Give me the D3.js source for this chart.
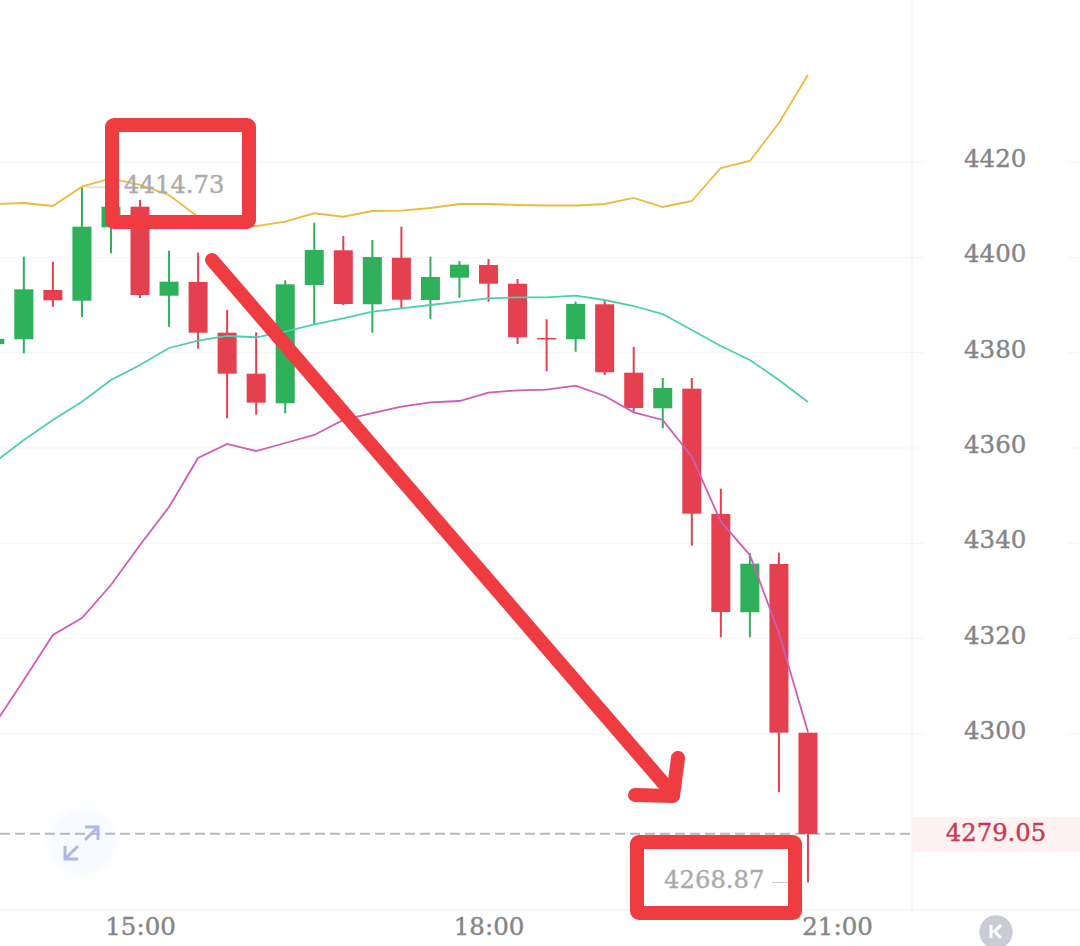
<!DOCTYPE html>
<html>
<head>
<meta charset="utf-8">
<script src="https://cdn.jsdelivr.net/npm/d3@7"></script>
<style>
  html, body { margin: 0; padding: 0; background: #fff; }
  svg { display: block; }
  text { font-family: "DejaVu Serif", serif; }
</style>
</head>
<body>
<div id="chart"></div>
<script>
// 15 minute candles, the last slot (21:00) has no candle yet
const times = ["13:45","14:00","14:15","14:30","14:45","15:00","15:15","15:30","15:45","16:00",
  "16:15","16:30","16:45","17:00","17:15","17:30","17:45","18:00","18:15","18:30",
  "18:45","19:00","19:15","19:30","19:45","20:00","20:15","20:30","20:45","21:00"];

const open = [4381.8,4382.81,4393.15,4390.9,4406.3,4410.62,4391.95,4394.83,4384.19,4375.59,
  4369.38,4394.2,4401.48,4390.15,4399.92,4391.05,4395.73,4398.39,4394.47,4383.08,
  4382.81,4390.15,4375.8,4368.33,4372.44,4346.16,4325.54,4335.67,4300.28];
const close = [4382.9,4393.29,4390.99,4406.43,4410.62,4392.1,4394.89,4384.19,4375.59,4369.51,
  4394.34,4401.54,4390.21,4400.07,4391.11,4395.88,4398.46,4394.47,4383.23,4383.0,
  4390.21,4375.88,4368.39,4372.59,4346.22,4325.6,4335.73,4300.28,4279.05];
const high = [4383.5,4400.13,4399.08,4414.73,4412.03,4412.03,4401.39,4400.97,4388.95,4384.27,
  4395.18,4407.27,4404.48,4403.64,4406.43,4400.13,4399.23,4399.65,4395.46,4387.0,
  4390.69,4390.9,4381.19,4374.69,4374.69,4351.47,4337.98,4338.04,4300.28];
const low = [4380,4379.87,4389.64,4387.48,4400.85,4391.47,4385.45,4380.83,4366.23,4366.99,
  4367.28,4386.02,4390,4384.19,4389.16,4387.06,4391.53,4390.69,4381.82,4376.09,
  4380.2,4375.32,4367.62,4364.14,4339.51,4320.29,4320.29,4287.77,4268.87];

// bollinger bands
const upper = [4411.19,4411.4,4410.77,4414.82,4416.54,4415.18,4413.08,4408.46,4406.57,4406.57,
  4407.48,4409.24,4408.52,4409.72,4409.78,4410.35,4411.19,4411.19,4410.98,4410.87,
  4410.87,4411.19,4412.45,4410.56,4411.82,4418.74,4420.21,4428.18,4438.25];
const middle = [4357.07,4361.68,4365.88,4369.72,4374.27,4377.41,4380.98,4382.51,4383.5,4383.23,
  4384.4,4385.95,4387.21,4388.6,4389.31,4390,4390.69,4391.41,4391.62,4391.62,
  4391.95,4391.05,4389.79,4388.11,4384.76,4381.4,4378.46,4374.27,4369.65];
const lower = [4302.1,4311.33,4320.77,4324.34,4331.26,4339.65,4347.63,4357.91,4360.84,4359.37,
  4361.05,4362.73,4365.88,4367.34,4368.67,4369.59,4369.86,4371.6,4372.11,4372.23,
  4373.07,4370.91,4367.49,4365.88,4358.18,4344.54,4337.56,4321.19,4300.43];

const priceTicks = [4420,4400,4380,4360,4340,4320,4300];
const timeTicks = ["15:00","18:00","21:00"];
const lastPrice = 4279.05;
const highLabel = {time: "14:30", price: 4414.73, text: "4414.73"};
const lowLabel = {time: "20:45", price: 4268.87, text: "4268.87"};

const width = 1080, height = 946;
const plotRight = 912, plotBottom = 910;
const green = "#2fb05a", red = "#e4404f", annot = "#ee3c40";

const svg = d3.select("#chart").append("svg")
  .attr("width", width)
  .attr("height", height)
  .attr("viewBox", [0, 0, width, height]);

const x = d3.scalePoint().domain(times).range([-5.2, 837]);
const y = d3.scaleLinear().domain([4420, 4300]).range([162, 734]);

svg.append("filter").attr("id", "soft")
  .append("feGaussianBlur").attr("stdDeviation", 2.5);

// grid lines and frame
const gridColor = "#f5f5f6";
svg.append("g").selectAll("line").data(priceTicks).join("line")
  .attr("x1", 0).attr("x2", 924)
  .attr("y1", d => y(d)).attr("y2", d => y(d))
  .attr("stroke", gridColor);
svg.append("g").selectAll("line").data(priceTicks).join("line")
  .attr("x1", 1068).attr("x2", width)
  .attr("y1", d => y(d)).attr("y2", d => y(d))
  .attr("stroke", gridColor);
svg.append("line").attr("x1", plotRight).attr("x2", plotRight).attr("y1", 0).attr("y2", plotBottom)
  .attr("stroke", gridColor).attr("stroke-width", 1.5);
svg.append("line").attr("x1", 0).attr("x2", width).attr("y1", plotBottom).attr("y2", plotBottom)
  .attr("stroke", gridColor).attr("stroke-width", 1.5);

// expand button
svg.append("circle").attr("cx", 82).attr("cy", 842).attr("r", 34)
  .attr("fill", "#f7fafe").attr("filter", "url(#soft)");

// last price line and tag
svg.append("line")
  .attr("x1", 0).attr("x2", plotRight - 2)
  .attr("y1", y(lastPrice)).attr("y2", y(lastPrice))
  .attr("stroke", "#b6babf").attr("stroke-width", 2).attr("stroke-dasharray", "10 5");
svg.append("rect")
  .attr("x", plotRight).attr("width", width - plotRight)
  .attr("y", y(lastPrice) - 17).attr("height", 35)
  .attr("fill", "#fdf2f2");
svg.append("text")
  .attr("x", 996).attr("y", y(lastPrice) + 7)
  .attr("text-anchor", "middle")
  .attr("font-size", 24.3)
  .attr("fill", "#c93a50")
  .attr("stroke", "#c93a50").attr("stroke-width", 0.4)
  .text(d3.format(".2f")(lastPrice));

svg.append("g").attr("fill", "none").attr("stroke", "#aebae4").attr("stroke-width", 3)
  .selectAll("path")
  .data(["M85 827H98V840M98 827L85 840", "M65 846V859H78M65 859L78 846"])
  .join("path")
  .attr("d", d => d);

// candles
const candles = d3.range(open.length);
const bodyWidth = 19;
const color = i => close[i] >= open[i] && i !== 19 ? green : red;

svg.append("g").selectAll("line").data(candles).join("line")
  .attr("x1", i => x(times[i])).attr("x2", i => x(times[i]))
  .attr("y1", i => y(high[i])).attr("y2", i => y(low[i]))
  .attr("stroke", color).attr("stroke-width", 2);

svg.append("g").selectAll("rect").data(candles).join("rect")
  .attr("x", i => x(times[i]) - bodyWidth / 2)
  .attr("width", bodyWidth)
  .attr("y", i => y(Math.max(open[i], close[i])))
  .attr("height", i => Math.max(1.5, Math.abs(y(open[i]) - y(close[i]))))
  .attr("fill", color);

// bands
const line = d3.line().x((d, i) => x(times[i])).y(d => y(d));
[[upper, "#ecbb3c"], [middle, "#4ecfae"], [lower, "#cf5cb6"]].forEach(([values, stroke]) => {
  svg.append("path")
    .attr("d", line(values))
    .attr("fill", "none")
    .attr("stroke", stroke)
    .attr("stroke-width", 1.8);
});

// high / low labels with leader lines
const labelGrey = "#ababab";
svg.append("line")
  .attr("x1", x(highLabel.time) + 4).attr("x2", 120)
  .attr("y1", y(highLabel.price)).attr("y2", y(highLabel.price))
  .attr("stroke", "#c8c8c8");
svg.append("text")
  .attr("x", 124).attr("y", y(highLabel.price) + 6)
  .attr("font-size", 24.3).attr("fill", labelGrey)
  .attr("stroke", labelGrey).attr("stroke-width", 0.4)
  .text(highLabel.text);
svg.append("line")
  .attr("x1", 772).attr("x2", 788)
  .attr("y1", y(lowLabel.price)).attr("y2", y(lowLabel.price))
  .attr("stroke", "#c8c8c8");
svg.append("text")
  .attr("x", 664).attr("y", y(lowLabel.price) + 6)
  .attr("font-size", 24.3).attr("fill", labelGrey)
  .attr("stroke", labelGrey).attr("stroke-width", 0.4)
  .text(lowLabel.text);

// axes
const yAxis = svg.append("g")
  .attr("transform", "translate(964,0)")
  .call(d3.axisRight(y).tickValues(priceTicks).tickSize(0).tickPadding(0).tickFormat(d3.format("d")));
const xAxis = svg.append("g")
  .attr("transform", `translate(0,${plotBottom})`)
  .call(d3.axisBottom(x).tickValues(timeTicks).tickSize(0).tickPadding(8));
[yAxis, xAxis].forEach(g => {
  g.select(".domain").remove();
  g.selectAll("text")
    .attr("fill", "#858585")
    .attr("stroke", "#858585").attr("stroke-width", 0.4)
    .style("font-family", '"DejaVu Serif", serif')
    .attr("font-size", 24.5);
});
yAxis.selectAll("text").attr("dy", "0.18em");

// K badge
svg.append("circle").attr("cx", 996).attr("cy", 932).attr("r", 16.7).attr("fill", "#c9ccd2");
svg.append("path")
  .attr("d", "M991 925V938M1001 925L994.5 931.5L1001 938")
  .attr("fill", "none").attr("stroke", "#fff").attr("stroke-width", 3);

// hand drawn annotation on top of the chart
const boxes = svg.append("g").attr("fill", "none").attr("stroke", annot)
  .attr("stroke-width", 14).attr("stroke-linejoin", "round").attr("stroke-linecap", "round");
boxes.append("rect").attr("x", 112).attr("y", 125).attr("width", 137).attr("height", 97).attr("rx", 2);
boxes.append("rect").attr("x", 637).attr("y", 842).attr("width", 158).attr("height", 71).attr("rx", 2);
boxes.append("path").attr("d", "M212 260L672 793");
boxes.append("path").attr("d", "M678 758L673 796L635 795");
</script>
</body>
</html>
